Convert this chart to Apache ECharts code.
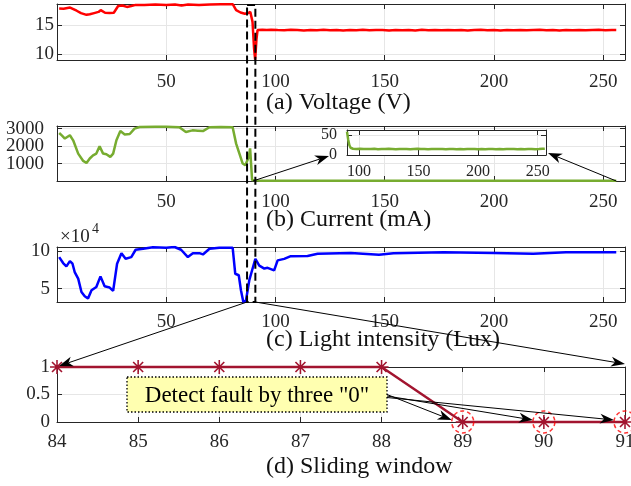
<!DOCTYPE html>
<html><head><meta charset="utf-8">
<script src="https://cdn.jsdelivr.net/npm/echarts@6/dist/echarts.min.js"></script>
<style>html,body{margin:0;padding:0;background:#fff}#c{width:631px;height:486px}</style>
</head><body><div id="c"></div>
<script>
// ---------- data ----------
const voltage = [[1,17.8],[3,17.75],[6,17.95],[9,17.4],[11,17.0],[13.5,16.7],[15,16.8],[17,17.0],[19,17.2],[20,17.5],[22,17.05],[24,17.0],[26,17.05],[28,18.2],[30,18.3],[32,18.05],[34,18.2],[36,18.4],[40,18.4],[45,18.45],[50,18.4],[54,18.45],[57,18.3],[60,18.45],[65,18.4],[70,18.45],[75,18.5],[80.5,18.5],[82,17.5],[84,17.1],[86,16.9],[87.5,17.0],[88.5,17.2],[89.5,15.5],[90.2,11],[90.7,9.05],[91.3,12.5],[91.8,14.1],[94,14.15],[96,14.1],[98,14.15],[101,14.1],[104,14.06],[107,14.14],[110,14.1],[113,14.05],[116,14.13],[119,14.09],[122,14.15],[125,14.07],[128,14.12],[131,14.04],[134,14.11],[137,14.08],[140,14.14],[143,14.06],[146,14.12],[149,14.1],[152,14.03],[155,14.13],[158,14.08],[161,14.12],[164,14.05],[167,14.14],[170,14.09],[173,14.12],[176,14.06],[179,14.11],[182,14.08],[185,14.13],[188,14.05],[191,14.1],[194,14.14],[197,14.07],[200,14.11],[203,14.04],[206,14.12],[209,14.09],[212,14.13],[215,14.06],[218,14.1],[221,14.14],[224,14.07],[227,14.11],[230,14.05],[233,14.12],[236,14.09],[239,14.13],[242,14.06],[245,14.1],[248,14.14],[251,14.08],[254,14.11],[256,14.1]];

const current = [[1,2750],[2.3,2600],[3.6,2430],[5.9,2620],[7.4,2330],[9.7,1570],[12,1150],[13.5,1030],[15,1290],[16.5,1470],[18,1570],[19.5,1990],[21.1,1570],[22.6,1530],[24.4,1380],[25.7,1570],[27.2,2330],[29,2860],[31,2670],[33.3,2690],[35.5,3000],[37.8,3090],[45,3100],[50,3100],[56,3080],[59,2810],[62,2900],[64.5,2880],[66.8,2860],[69.8,3080],[75,3090],[80.4,3080],[82,2140],[83.5,1570],[85,1000],[86.2,900],[87.8,1380],[88.4,1870],[89.3,62],[90,58],[91,38],[92,24],[93,18],[95,15.5],[98,14.8],[101,15.3],[104,14.6],[107,15.1],[110,14.7],[113,15.2],[116,14.5],[119,15.0],[122,14.6],[125,15.2],[128,14.8],[131,14.4],[134,15.0],[137,14.7],[140,15.1],[143,14.5],[146,14.9],[149,15.2],[152,14.6],[155,14.9],[158,14.4],[161,14.8],[164,15.1],[167,14.6],[170,14.9],[173,14.3],[176,14.7],[179,15.0],[182,14.5],[185,14.8],[188,14.4],[191,14.9],[194,14.6],[197,15.0],[200,14.5],[203,14.8],[206,14.3],[209,14.7],[212,15.0],[215,14.5],[218,14.9],[221,14.4],[224,14.8],[227,14.6],[230,15.0],[233,14.5],[236,14.8],[239,14.4],[242,14.7],[245,14.9],[248,14.5],[251,14.8],[254,15.4],[256,15.8]];

// light intensity in units of 1e4 lux
const light = [[1,9.24],[2.8,8.44],[4.3,8.0],[5.9,8.7],[7.1,8.35],[8.1,7.23],[9.7,6.34],[11.2,4.55],[12.7,3.98],[14.2,3.67],[15.8,4.78],[18,5.22],[19.9,6.65],[21.8,5.31],[24.1,5.14],[25.7,4.69],[27.5,8.35],[29.5,9.77],[31.4,9.02],[34,9.24],[36,10.23],[39.4,10.36],[43.9,10.57],[50,10.5],[53.8,10.6],[56.8,10.23],[59.9,9.24],[62.2,9.77],[65.2,9.77],[66.8,9.6],[69.8,10.36],[74.3,10.5],[80.4,10.5],[81.6,7.0],[83.2,6.8],[84.2,4.78],[85.3,3.2],[86.5,3.4],[88,6.1],[89.6,7.77],[90.8,9.0],[92.6,8.1],[94.9,7.7],[96.4,7.8],[99.4,7.46],[101,8.8],[104,9.0],[107,9.37],[114.7,9.4],[119.3,9.7],[134.5,9.8],[147.4,9.55],[154,9.75],[177,9.9],[200,9.8],[218,9.7],[233,9.9],[256,9.9]];

const windowX = [84,85,86,87,88,89,90,91];
const windowY = [1,1,1,1,1,0,0,0];
const faultX = [89,90,91];

const mainXTicks = [50,100,150,200,250];
const voltYTicks = [10,15];
const currYTicks = [1000,2000,3000];
const lightYTicks = [5,10];
const insetXTicks = [100,150,200,250];
const insetYTicks = [0,50];
const winXTicks = [84,85,86,87,88,89,90,91];
const winYTicks = [0,0.5,1];

const titles = ['(a) Voltage (V)','(b) Current (mA)','(c) Light intensity (Lux)','(d) Sliding window'];
const noteText = 'Detect fault by three "0"';

// ---------- helpers ----------
const FONT = '"Liberation Serif", "Times New Roman", Times, serif';
const AX = '#262626';
const GRIDC = '#e6e6e6';
const fmt = v => String(v);
function xPair(g, min, max, ticks, fs, margin, z) {
  const base = {gridIndex:g, type:'value', min, max, z:z||0,
    axisLine:{show:true, onZero:false, lineStyle:{color:AX, width:1}},
    axisTick:{show:true, inside:true, length:5, customValues:ticks, lineStyle:{color:AX}}};
  return [
    Object.assign({}, base, {position:'bottom', axisLabel:{show:true, customValues:ticks, hideOverlap:false, formatter:fmt, fontFamily:FONT, fontSize:fs, color:AX, margin},
      splitLine:{show:true, lineStyle:{color:GRIDC, width:1}}}),
    Object.assign({}, base, {position:'top', axisLabel:{show:false}, splitLine:{show:false}})
  ];
}
function yPair(g, min, max, ticks, fs, margin, z, hideLabels) {
  const base = {gridIndex:g, type:'value', min, max, z:z||0,
    axisLine:{show:true, onZero:false, lineStyle:{color:AX, width:1}},
    axisTick:{show:true, inside:true, length:5, customValues:ticks, lineStyle:{color:AX}}};
  return [
    Object.assign({}, base, {position:'left', axisLabel:{show:!hideLabels, customValues:ticks, hideOverlap:false, formatter:fmt, fontFamily:FONT, fontSize:fs, color:AX, margin},
      splitLine:{show:true, lineStyle:{color:GRIDC, width:1}}}),
    Object.assign({}, base, {position:'right', axisLabel:{show:false}, splitLine:{show:false}})
  ];
}
const asterisk = 'path://M9,1L11,1L11,19L9,19Z M1,9L19,9L19,11L1,11Z M4.35,2.85L17.15,15.65L15.65,17.15L2.85,4.35Z M15.65,2.85L17.15,4.35L4.35,17.15L2.85,15.65Z';

const grids = [
  {left:57, top:4, width:568, height:56},
  {left:57, top:126, width:568, height:55},
  {left:57, top:247, width:568, height:55},
  {left:57, top:367, width:568, height:55},
  {left:347, top:130, width:199, height:25, show:true, backgroundColor:'#fff', borderWidth:0, z:3}
].map(g => Object.assign({outerBoundsMode:'none', containLabel:false}, g));

const xAxis = [].concat(
  xPair(0, 0, 260, mainXTicks, 19, 13),
  xPair(1, 0, 260, mainXTicks, 19, 12),
  xPair(2, 0, 260, mainXTicks, 19, 11),
  xPair(3, 84, 91, winXTicks, 19, 11),
  xPair(4, 90, 257, insetXTicks, 16, 9, 4)
);
const yAxis = [].concat(
  yPair(0, 9, 18.55, voltYTicks, 19, 3),
  yPair(1, 0, 3150, currYTicks, 19, 13, 0, true),
  yPair(2, 3.2, 10.6, lightYTicks, 19, 7),
  yPair(3, 0, 1, winYTicks, 19, 7),
  yPair(4, 0, 62, insetYTicks, 16, 10, 4)
);

const lineS = (i, data, color, z) => ({type:'line', xAxisIndex:2*i, yAxisIndex:2*i, data, showSymbol:false,
  lineStyle:{color, width:2.5}, itemStyle:{color}, animation:false, z:z||2});

const series = [
  lineS(0, voltage, '#ff0000'),
  lineS(1, current, '#77ac30'),
  lineS(2, light, '#0000ff'),
  {type:'line', xAxisIndex:6, yAxisIndex:6, data: windowX.map((x,i)=>[x, windowY[i]]),
    symbol: asterisk, symbolSize:14, showSymbol:true, showAllSymbol:true, clip:false,
    lineStyle:{color:'#a2142f', width:2.5}, itemStyle:{color:'#a2142f'}, animation:false, z:3},
  {type:'scatter', xAxisIndex:6, yAxisIndex:6, data: faultX.map(x=>[x,0]), symbol:'circle', symbolSize:22,
    itemStyle:{color:'rgba(0,0,0,0)', borderColor:'#ff0000', borderWidth:1.5, borderType:[4,3]}, animation:false, z:4, silent:true},
  lineS(4, current.filter(p => p[0] >= 90), '#77ac30', 5)
];

const chart = echarts.init(document.getElementById('c'), null, {renderer:'canvas'});
chart.setOption({animation:false, backgroundColor:'#fff', textStyle:{fontFamily:FONT}, grid:grids, xAxis, yAxis, series});

// ---------- annotations ----------
const P = (g, x, y) => chart.convertToPixel({gridIndex:g}, [x, y]);
function arrow(x1,y1,x2,y2){
  const dx=x2-x1, dy=y2-y1, L=Math.hypot(dx,dy), ux=dx/L, uy=dy/L, px=-uy, py=ux;
  const len=14, hw=5, notch=4;
  const bx=x2-ux*len, by=y2-uy*len, nx=x2-ux*(len-notch), ny=y2-uy*(len-notch);
  return [
    {type:'line', shape:{x1,y1,x2:nx,y2:ny}, style:{stroke:'#000', lineWidth:1}, z:100},
    {type:'polygon', shape:{points:[[x2,y2],[bx+px*hw,by+py*hw],[nx,ny],[bx-px*hw,by-py*hw]]}, style:{fill:'#000'}, z:100}
  ];
}
const g = [];
// current axis tick labels (placed at the axis' own tick positions)
currYTicks.forEach(v => {
  const p = P(1, 0, v);
  g.push({type:'text', x:p[0]-13, y:p[1], style:{text:String(v), fontFamily:FONT, fontSize:19, fill:AX, align:'right', verticalAlign:'middle'}, z:50});
});
const dl = P(0, 87.0, 18.55)[0], dr = P(0, 90.8, 18.55)[0];
const dTop = 5, dBot = P(2, 90, 3.2)[1];
g.push({type:'rect', shape:{x:dl, y:dTop, width:dr-dl, height:dBot-dTop}, style:{fill:null, stroke:'#000', lineWidth:2, lineDash:[8,4]}, z:90});
const inL = P(4, 90, 0), inR = P(4, 257, 0);
const c0 = P(1, 89.7, 0), cEnd = P(1, 256, 0);
g.push(...arrow(c0[0], c0[1], inL[0]-18, inL[1]+1));
g.push(...arrow(cEnd[0], cEnd[1], inR[0]+2, inR[1]-2));
const w84 = P(3, 84, 1), w91 = P(3, 91, 1);
g.push(...arrow(dl, dBot, w84[0]+2, w84[1]-1));
g.push(...arrow(dr, dBot, w91[0], w91[1]-3));
const bx0 = 127, by0 = 377, bw = 260, bh = 35;
g.push({type:'rect', shape:{x:bx0, y:by0, width:bw, height:bh}, style:{fill:'#ffffb0', stroke:'#000', lineWidth:1.3, lineDash:[1.5,2]}, z:95});
g.push({type:'text', x:bx0+bw/2, y:by0+bh/2+1, style:{text:noteText, fontFamily:FONT, fontSize:23, fill:'#000', align:'center', verticalAlign:'middle'}, z:96});
faultX.forEach((fx, i) => {
  const p = P(3, fx, 0);
  g.push(...arrow(bx0+bw, by0+bh/2 + i*1.5, p[0]-11, p[1]-2));
});
const tY = [103, 220, 340, 467];
titles.forEach((t, i) => g.push({type:'text', x:266, y:tY[i], style:{text:t, fontFamily:FONT, fontSize:24, fill:'#111', align:'left', verticalAlign:'middle'}, z:80}));
g.push({type:'text', x:60, y:237, style:{text:'×10', fontFamily:FONT, fontSize:19, fill:AX, align:'left', verticalAlign:'middle'}, z:80});
g.push({type:'text', x:92, y:229, style:{text:'4', fontFamily:FONT, fontSize:14, fill:AX, align:'left', verticalAlign:'middle'}, z:80});

chart.setOption({graphic:{elements:g}});
</script>
</body></html>
